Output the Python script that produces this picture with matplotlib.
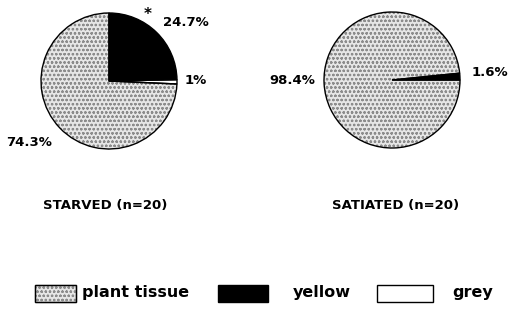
import matplotlib
matplotlib.use('Agg')
import matplotlib.pyplot as plt
from matplotlib.patches import Rectangle

# data
categories = ['plant tissue', 'yellow', 'grey']
starved = [74.3, 24.7, 1.0]
satiated = [98.4, 1.6, 0.0]
titles = ['STARVED (n=20)', 'SATIATED (n=20)']

colors = ['#e6e6e6', 'black', 'white']
hatches = ['oooo', '', '']

plt.rcParams['font.family'] = ['DejaVu Sans']
plt.rcParams['font.weight'] = 'bold'
plt.rcParams['hatch.linewidth'] = 0.6

W, H = 509, 313
fig = plt.figure(figsize=(W / 100, H / 100), dpi=100)
ax = fig.add_axes([0, 0, 1, 1])


def draw_pie(values, cols, hats, center, start, ccw):
    # fill with stipple texture, then outline in black
    wedges, _ = ax.pie(values, colors=cols, center=center, radius=68,
                       startangle=start, counterclock=ccw, frame=True,
                       wedgeprops={'edgecolor': '#8c8c8c', 'linewidth': 0})
    for w, h in zip(wedges, hats):
        w.set_hatch(h)
    ax.pie(values, center=center, radius=68, startangle=start,
           counterclock=ccw, frame=True,
           wedgeprops={'fill': False, 'edgecolor': 'black', 'linewidth': 1.0})


# yellow first, then grey, then plant tissue
order = [1, 2, 0]
cols = [colors[i] for i in order]
hats = [hatches[i] for i in order]
draw_pie([starved[i] for i in order], cols, hats, (109, H - 81), 90, False)
# satiated has no grey, drop the empty slice
sat_idx = [i for i in order if satiated[i] > 0]
draw_pie([satiated[i] for i in sat_idx], [colors[i] for i in sat_idx],
         [hatches[i] for i in sat_idx], (392, H - 80), 0, True)

ax.set_xlim(0, W)
ax.set_ylim(0, H)
ax.set_aspect('equal')
ax.axis('off')

fs = 9.5
ax.text(186, H - 23, f'{starved[1]}%', ha='center', va='center', fontsize=fs)
ax.text(148, H - 15, '*', ha='center', va='center', fontsize=11)
ax.text(196, H - 81, f'{starved[2]:.0f}%', ha='center', va='center', fontsize=fs)
ax.text(29, H - 143, f'{starved[0]}%', ha='center', va='center', fontsize=fs)
ax.text(292, H - 80, f'{satiated[0]}%', ha='center', va='center', fontsize=fs)
ax.text(490, H - 72, f'{satiated[1]}%', ha='center', va='center', fontsize=fs)

ax.text(105, H - 206, titles[0], ha='center', va='center', fontsize=9.5)
ax.text(396, H - 206, titles[1], ha='center', va='center', fontsize=9.5)

# legend
boxes = [(35, 41), (218, 50), (377, 56)]
text_x = [82, 293, 452]
for (x0, w), c, h, lab, tx in zip(boxes, colors, hatches, categories, text_x):
    ax.add_patch(Rectangle((x0, H - 302), w, 17, facecolor=c, hatch=h,
                           edgecolor='#8c8c8c' if h else 'black', linewidth=1))
    if h:
        ax.add_patch(Rectangle((x0, H - 302), w, 17, fill=False,
                               edgecolor='black', linewidth=1))
    ax.text(tx, H - 293, lab, ha='left', va='center', fontsize=11.5)

fig.savefig('out.png', dpi=100)
